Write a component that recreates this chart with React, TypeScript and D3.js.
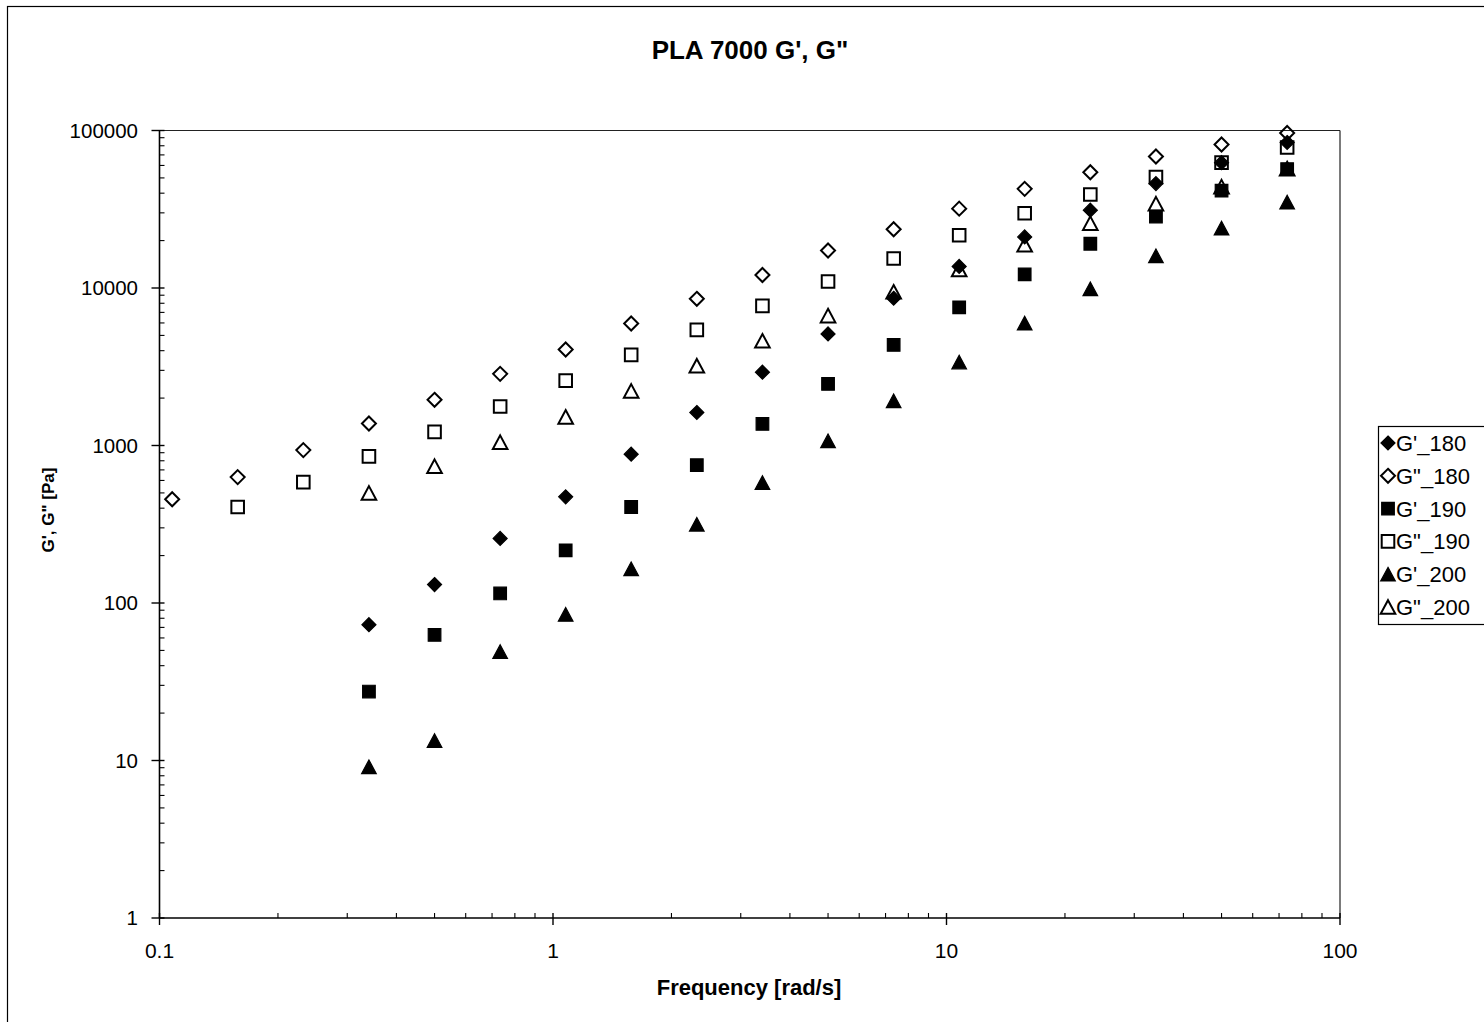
import React from "react";
import * as d3 from "d3";

// ---- data ----
const freq = [0.1077, 0.158, 0.232, 0.3406, 0.5, 0.734, 1.077, 1.58, 2.32, 3.406, 5.0, 7.34, 10.77, 15.8, 23.2, 34.06, 50, 73.4];

const gp180 = [72.8, 131, 257, 472, 881, 1620, 2920, 5110, 8610, 13700, 21100, 31200, 46000, 62500, 83900];
const gpp180 = [456, 630, 935, 1380, 1950, 2850, 4070, 5950, 8540, 12100, 17300, 23600, 31900, 42600, 54300, 68400, 81500, 96400];
const gp190 = [27.4, 62.7, 115, 216, 407, 750, 1370, 2460, 4350, 7540, 12200, 19100, 28400, 41500, 56900];
const gpp190 = [407, 585, 853, 1220, 1770, 2580, 3760, 5420, 7700, 11000, 15400, 21600, 29800, 39200, 50600, 62500, 78000];
const gp200 = [9.13, 13.4, 49.2, 84.6, 165, 316, 581, 1070, 1920, 3390, 5980, 9890, 16000, 24000, 35100];
const gpp200 = [500, 739, 1050, 1520, 2220, 3210, 4620, 6680, 9460, 13100, 18800, 25800, 34300, 44000, 57300];

const seriesNames = ["G'_180", 'G"_180', "G'_190", 'G"_190', "G'_200", 'G"_200'];
const seriesValues = [gp180, gpp180, gp190, gpp190, gp200, gpp200];
const seriesStart = [3, 0, 3, 1, 3, 3];
const seriesShape = ["diamond", "diamond", "square", "square", "triangle", "triangle"];
const seriesFilled = [true, false, true, false, true, false];

const xTickValues = [0.1, 1, 10, 100];
const yTickValues = [1, 10, 100, 1000, 10000, 100000];

const title = "PLA 7000 G', G\"";
const xTitle = "Frequency [rad/s]";
const yTitle = "G', G\" [Pa]";

// ---- layout ----
const W = 1484;
const H = 1022;
const L = 159.5;
const R = 1340;
const T = 130.5;
const B = 918;
const FONT = "'Liberation Sans', Arial, Helvetica, sans-serif";

function markerPath(shape: string, cx: number, cy: number): string {
  if (shape === "diamond") {
    const r = 7;
    return `M${cx},${cy - r}L${cx + r},${cy}L${cx},${cy + r}L${cx - r},${cy}Z`;
  }
  if (shape === "square") {
    const r = 6.3;
    return `M${cx - r},${cy - r}L${cx + r},${cy - r}L${cx + r},${cy + r}L${cx - r},${cy + r}Z`;
  }
  const w = 7.3, h = 6.8;
  return `M${cx},${cy - h}L${cx + w},${cy + h}L${cx - w},${cy + h}Z`;
}

function Marker({ shape, filled, cx, cy }: { shape: string; filled: boolean; cx: number; cy: number }) {
  const d = markerPath(shape, cx, cy);
  if (filled) {
    return <path d={d} fill="#000" stroke="#000" strokeWidth={1.2} strokeLinejoin="miter" />;
  }
  return <path d={d} fill="none" stroke="#000" strokeWidth={2} strokeLinejoin="miter" />;
}

export default function App() {
  const x = d3.scaleLog().domain([0.1, 100]).range([L, R]);
  const y = d3.scaleLog().domain([1, 100000]).range([B, T]);

  const xMinor = x.ticks().filter((t) => !xTickValues.some((m) => Math.abs(m - t) / m < 1e-9));
  const yMinor = y.ticks().filter((t) => !yTickValues.some((m) => Math.abs(m - t) / m < 1e-9));

  const legendTop = 443;
  const legendStep = 32.8;

  return (
    <svg
      width={W}
      height={H}
      style={{ position: "absolute", left: 0, top: 0, background: "#fff" }}
      fontFamily={FONT}
    >
      <rect x={0} y={0} width={W} height={H} fill="#fff" />
      {/* outer chart border */}
      <rect x={7.5} y={6.5} width={1500} height={1040} fill="none" stroke="#000" strokeWidth={1.2} />

      {/* plot frame: top and right */}
      <line x1={L} y1={T} x2={R} y2={T} stroke="#222" strokeWidth={1.2} />
      <line x1={R} y1={T} x2={R} y2={B} stroke="#222" strokeWidth={1.2} />

      {/* y axis */}
      <line x1={L} y1={T} x2={L} y2={B} stroke="#000" strokeWidth={1.6} />
      {yTickValues.map((v) => (
        <g key={"ym" + v}>
          <line x1={L - 8} y1={y(v)} x2={L + 5} y2={y(v)} stroke="#000" strokeWidth={1.4} />
          <text x={138} y={y(v)} dy="0.35em" textAnchor="end" fontSize={20.5} fill="#000">
            {String(v)}
          </text>
        </g>
      ))}
      {yMinor.map((v) => (
        <line key={"yn" + v} x1={L} y1={y(v)} x2={L + 5} y2={y(v)} stroke="#000" strokeWidth={1.1} />
      ))}

      {/* x axis */}
      <line x1={L} y1={B} x2={R} y2={B} stroke="#000" strokeWidth={1.6} />
      {xTickValues.map((v) => (
        <g key={"xm" + v}>
          <line x1={x(v)} y1={B - 5} x2={x(v)} y2={B + 7} stroke="#000" strokeWidth={1.4} />
          <text x={x(v)} y={958} textAnchor="middle" fontSize={21} fill="#000">
            {String(v)}
          </text>
        </g>
      ))}
      {xMinor.map((v) => (
        <line key={"xn" + v} x1={x(v)} y1={B - 5} x2={x(v)} y2={B} stroke="#000" strokeWidth={1.1} />
      ))}

      {/* data markers */}
      {seriesValues.map((vals, si) => (
        <g key={"s" + si}>
          {vals.map((v, i) => (
            <Marker
              key={i}
              shape={seriesShape[si]}
              filled={seriesFilled[si]}
              cx={x(freq[seriesStart[si] + i])}
              cy={y(v)}
            />
          ))}
        </g>
      ))}

      {/* titles */}
      <text x={750} y={59} textAnchor="middle" fontSize={26} fontWeight="bold" fill="#000">
        {title}
      </text>
      <text x={749} y={995} textAnchor="middle" fontSize={22} fontWeight="bold" fill="#000">
        {xTitle}
      </text>
      <text
        transform={`translate(54, 510) rotate(-90)`}
        textAnchor="middle"
        fontSize={17}
        fontWeight="bold"
        fill="#000"
      >
        {yTitle}
      </text>

      {/* legend */}
      <rect x={1378.5} y={426.5} width={130} height={198} fill="#fff" stroke="#000" strokeWidth={1.2} />
      {seriesNames.map((name, i) => (
        <g key={"lg" + i}>
          <Marker
            shape={seriesShape[i]}
            filled={seriesFilled[i]}
            cx={1388}
            cy={legendTop + i * legendStep}
          />
          <text x={1396} y={legendTop + i * legendStep} dy="0.36em" fontSize={22} fill="#000">
            {name}
          </text>
        </g>
      ))}
    </svg>
  );
}
